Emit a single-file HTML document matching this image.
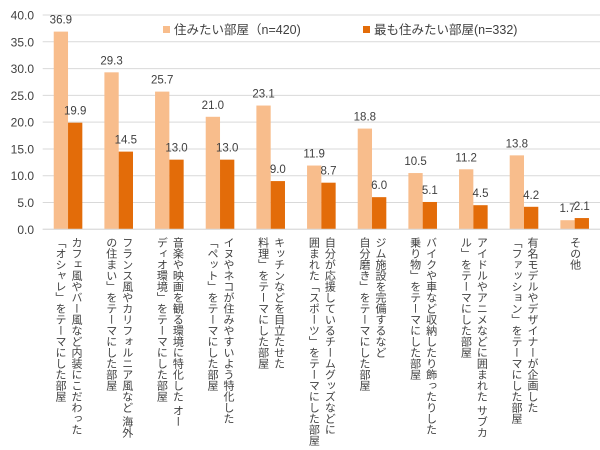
<!DOCTYPE html>
<html><head><meta charset="utf-8"><style>
body{margin:0;background:#fff;width:600px;height:450px;overflow:hidden;font-family:"Liberation Sans","Noto Sans CJK JP",sans-serif;}
svg text{font-family:"Liberation Sans","Noto Sans CJK JP",sans-serif;fill:#404040;}
.xl{position:absolute;top:237px;writing-mode:vertical-rl;font-size:11px;line-height:16px;color:#404040;font-family:"Liberation Sans","Noto Sans CJK JP",sans-serif;white-space:pre;transform:translateX(-50%);}
</style></head><body>
<div id="wrap" style="position:relative;width:600px;height:450px">
<svg id="chart" width="600" height="450" style="position:absolute;left:0;top:0"></svg>
</div>
<script>
const categories=["カフェ風やバー風など内装にこだわった\n「オシャレ」をテーマにした部屋","フランス風やカリフォルニア風など 海外\nの住まい」をテーマにした部屋","音楽や映画を観る環境に特化した オー\nディオ環境」をテーマにした部屋","イヌやネコが住みやすいよう特化した\n「ペット」をテーマにした部屋","キッチンなどを目立たせた\n料理」をテーマにした部屋","自分が応援しているチームグッズなどに\n囲まれた「スポーツ」をテーマにした部屋","ジム施設を完備するなど\n自分磨き」をテーマにした部屋","バイクや車など収納したり飾ったりした\n乗り物」をテーマにした部屋","アイドルやアニメなどに囲まれた サブカ\nル」をテーマにした部屋","有名モデルやデザイナーが企画した\n「ファッション」をテーマにした部屋","その他"];
const seriesA=[36.9,29.3,25.7,21.0,23.1,11.9,18.8,10.5,11.2,13.8,1.7];
const seriesB=[19.9,14.5,13.0,13.0,9.0,8.7,6.0,5.1,4.5,4.2,2.1];
const yTicks=[0,5,10,15,20,25,30,35,40];
const seriesNames=["住みたい部屋（n=420)","最も住みたい部屋(n=332)"];
const svg=document.getElementById('chart');
const NS='http://www.w3.org/2000/svg';
const L=42.7,R=600,Y0=229.3,Y40=15;
const y=v=>Y0-(v/40)*(Y0-Y40);
const band=(R-L)/categories.length;
const xc=i=>L+band*(i+0.5);
const BW=14.3;
function mk(t,a){const e=document.createElementNS(NS,t);for(const k in a)e.setAttribute(k,a[k]);svg.appendChild(e);return e;}
yTicks.forEach(t=>{
 const g=mk('line',{x1:L,x2:R,y1:y(t),y2:y(t),stroke:'#d9d9d9','stroke-width':1});
 
 
 const tx=mk('text',{x:34,y:y(t)+4.5,'text-anchor':'end','font-size':12});
 tx.textContent=t.toFixed(1);
 
 
});
const wrap=document.getElementById('wrap');
categories.forEach((c,i)=>{
 [[seriesA,'#f8bd8c',-BW],[seriesB,'#e36c09',0]].forEach(([s,col,off],k)=>{
  const r=mk('rect',{x:xc(i)+off,y:y(s[i]),width:BW,height:Y0-y(s[i]),fill:col});
  
  
  const t=mk('text',{x:xc(i)+off+BW/2,y:y(s[i])-8,'text-anchor':'middle','font-size':11.5});
  t.textContent=s[i].toFixed(1);
  
  
 });
 const d=document.createElement('div');
 d.className='xl';
 d.style.left=xc(i)+'px';
 d.textContent=c;
 
 
 wrap.appendChild(d);
});
const ax=mk('line',{x1:L,x2:R,y1:Y0,y2:Y0,stroke:'#d9d9d9'});


[[163,'#f8bd8c',seriesNames[0]],[363,'#e36c09',seriesNames[1]]].forEach(([x,col,n])=>{
 const r=mk('rect',{x:x,y:26,width:7,height:7,fill:col});
 
 
 const t=mk('text',{x:x+11,y:34,'font-size':12.5});
 t.textContent=n;
 
 
});
</script>
</body></html>
